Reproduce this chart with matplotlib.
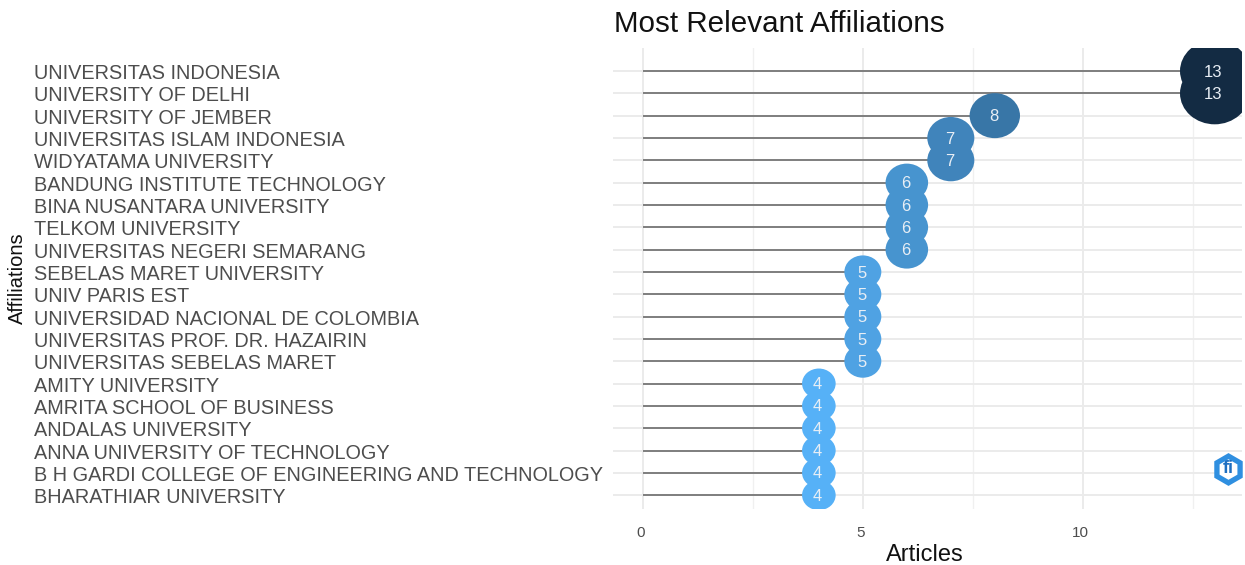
import numpy as np
import matplotlib
matplotlib.use("Agg")
import matplotlib.pyplot as plt
from matplotlib.colors import LinearSegmentedColormap
from matplotlib.markers import MarkerStyle
from matplotlib.transforms import Affine2D

affiliations = ["UNIVERSITAS INDONESIA", "UNIVERSITY OF DELHI", "UNIVERSITY OF JEMBER",
                "UNIVERSITAS ISLAM INDONESIA", "WIDYATAMA UNIVERSITY",
                "BANDUNG INSTITUTE TECHNOLOGY", "BINA NUSANTARA UNIVERSITY",
                "TELKOM UNIVERSITY", "UNIVERSITAS NEGERI SEMARANG",
                "SEBELAS MARET UNIVERSITY", "UNIV PARIS EST",
                "UNIVERSIDAD NACIONAL DE COLOMBIA", "UNIVERSITAS PROF. DR. HAZAIRIN",
                "UNIVERSITAS SEBELAS MARET", "AMITY UNIVERSITY",
                "AMRITA SCHOOL OF BUSINESS", "ANDALAS UNIVERSITY",
                "ANNA UNIVERSITY OF TECHNOLOGY",
                "B H GARDI COLLEGE OF ENGINEERING AND TECHNOLOGY",
                "BHARATHIAR UNIVERSITY"]
articles = [13, 13, 8, 7, 7, 6, 6, 6, 6, 5, 5, 5, 5, 5, 4, 4, 4, 4, 4, 4]
x_ticks = [0, 5, 10]
x_minor = [2.5, 7.5, 12.5]

plt.rcParams['font.family'] = ['Liberation Sans', 'DejaVu Sans']

W, H = 1245, 565
fig = plt.figure(figsize=(W / 100, H / 100), dpi=100)
# panel edges in pixels
left, right, top, bottom = 613, 1242, 48, 509
ax = fig.add_axes([left / W, 1 - bottom / H, (right - left) / W, (bottom - top) / H])

cmap = LinearSegmentedColormap.from_list('gg', ['#56B1F7', '#132B43'])
y = np.arange(len(articles))
vals = np.array(articles)

# marker height in px per value, the reference is stretched sideways
diam = {4: 30, 5: 33, 6: 38, 7: 42, 8: 45, 13: 62}
stretch = 1.12
oval = MarkerStyle('o', transform=Affine2D().scale(stretch, 1))
sizes = [(diam[v] * 0.72) ** 2 for v in articles]
colors = cmap((vals - 4) / 9)

ax.hlines(y, 0, vals, color='#7f7f7f', lw=1.4, zorder=2)
ax.scatter(vals, y, s=sizes, c=colors, marker=oval, linewidths=0, zorder=3)
for v, yy in zip(vals, y):
    ax.text(v - 0.03, yy + 0.05, str(v), color='#e8eef5', fontsize=12, ha='center', va='center', zorder=4)

ax.set_xlim(-0.68, 13.62)
ax.set_ylim(len(articles) - 1 + 0.62, -1.03)
ax.set_xticks(x_ticks)
ax.set_xticks(x_minor, minor=True)
ax.set_yticks(y)
ax.set_yticklabels(affiliations, ha='left', color='#4d4d4d', fontsize=14.3, va='center')
ax.tick_params(axis='y', length=0, pad=417)
ax.tick_params(axis='x', which='both', length=0)
ax.tick_params(axis='x', labelsize=11, labelcolor='#4d4d4d', pad=12)
ax.grid(True, which='major', color='#ebebeb', lw=1.4, zorder=0)
ax.grid(True, which='minor', axis='x', color='#f0f0f0', lw=1.0, zorder=0)
ax.set_axisbelow(True)
for s in ax.spines.values():
    s.set_visible(False)
# labels sit a little under the row line in the reference
for lab in ax.get_yticklabels():
    lab.set_transform(lab.get_transform() + Affine2D().translate(0, -2.5))
for lab in ax.get_xticklabels():
    lab.set_transform(lab.get_transform() + Affine2D().translate(-2, 0))

ax.set_xlabel('Articles', fontsize=17, color='#111111')
ax.xaxis.set_label_coords((925 - left) / (right - left), -(555 - bottom) / (bottom - top))
ax.xaxis.label.set_va('center')
fig.text(17 / W, 1 - 278 / H, 'Affiliations', rotation=90, fontsize=14.5, color='#111111',
         ha='center', va='center')
fig.text(614 / W, 1 - 24 / H, 'Most Relevant Affiliations', fontsize=21.3, color='#111111',
         ha='left', va='center')

# small blue logo over the plot
ax.scatter([0.978], [0.087], marker='h', s=560, c='#2f8fe0', transform=ax.transAxes, linewidths=0, zorder=5)
ax.scatter([0.978], [0.087], marker='h', s=220, c='#ffffff', transform=ax.transAxes, linewidths=0, zorder=6)
ax.text(0.978, 0.087, 'fi', color='#1f6fc0', fontsize=13, fontweight='bold', ha='center', va='center',
        transform=ax.transAxes, zorder=7)

fig.savefig('out.png', dpi=100)
